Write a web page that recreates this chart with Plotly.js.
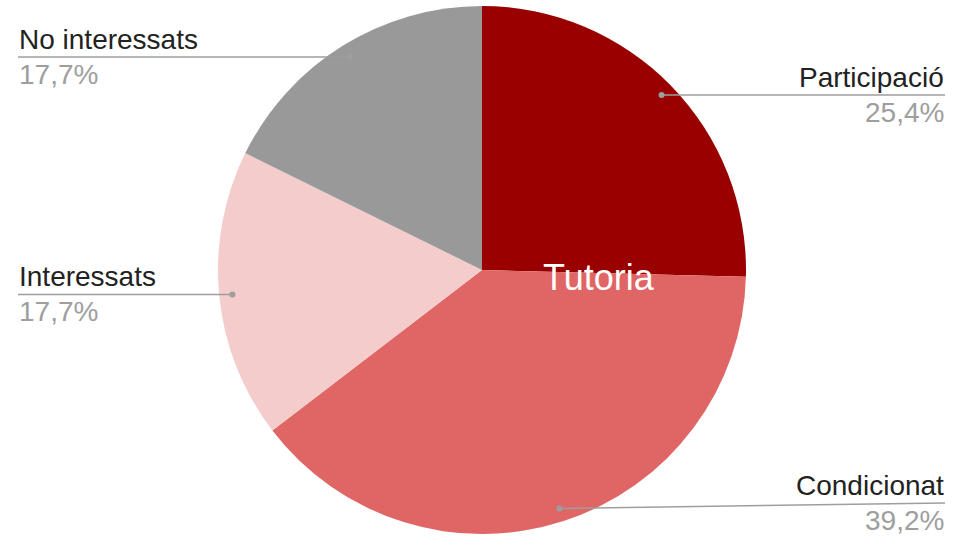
<!DOCTYPE html>
<html><head><meta charset="utf-8">
<script src="https://cdn.plot.ly/plotly-3.0.1.min.js"></script>
<style>html,body{margin:0;padding:0;background:#fff}#chart{width:955px;height:536px}</style>
</head><body><div id="chart"></div>
<script>
const labels = ["Participació", "Condicionat", "Interessats", "No interessats"];
const values = [25.4, 39.2, 17.7, 17.7];
const pctText = ["25,4%", "39,2%", "17,7%", "17,7%"];
const colors = ["#990000", "#e06666", "#f4cccc", "#999999"];
const centerLabel = "Tutoria";

const W = 955, H = 536;
const cx = 482, cy = 270, R = 264;
const px = x => x / W, py = y => 1 - y / H;

const total = values.reduce((a, b) => a + b, 0);
const shapes = [], annotations = [];
let cum = 0;
values.forEach((v, i) => {
  const mid = (cum + v / 2) / total * 2 * Math.PI; cum += v;
  const dx = Math.sin(mid), dy = -Math.cos(mid);
  const dotX = cx + dx * R * 0.95, dotY = cy + dy * R * 0.95;
  const right = dx > 0;
  const endX = right ? 945 : 18;
  const lineY = Math.min(Math.max(dotY, 57), 503);
  shapes.push({type: "line", xref: "paper", yref: "paper", x0: px(dotX), y0: py(dotY), x1: px(endX), y1: py(lineY), line: {color: "#9e9e9e", width: 1.5}});
  shapes.push({type: "circle", xref: "paper", yref: "paper", x0: px(dotX - 3), x1: px(dotX + 3), y0: py(dotY - 3), y1: py(dotY + 3), fillcolor: "#9e9e9e", line: {width: 0}});
  annotations.push({xref: "paper", yref: "paper", x: px(endX), y: py(lineY - 1), xanchor: right ? "right" : "left", yanchor: "bottom", text: labels[i], showarrow: false, borderpad: 0, font: {family: "Liberation Sans, Arial, sans-serif", size: 28, color: "#222222"}});
  annotations.push({xref: "paper", yref: "paper", x: px(endX), y: py(lineY + 1), xanchor: right ? "right" : "left", yanchor: "top", text: pctText[i], showarrow: false, borderpad: 0, font: {family: "Liberation Sans, Arial, sans-serif", size: 28, color: "#9e9e9e"}});
});
annotations.push({xref: "paper", yref: "paper", x: px(599), y: py(277), xanchor: "center", yanchor: "middle", text: centerLabel, showarrow: false, font: {family: "Liberation Sans, Arial, sans-serif", size: 36, color: "#ffffff"}});

const trace = {
  type: "pie", labels: labels, values: values, sort: false, direction: "clockwise", rotation: 0,
  marker: {colors: colors, line: {width: 0}}, textinfo: "none", hoverinfo: "label+percent",
  domain: {x: [px(cx - R), px(cx + R)], y: [py(cy + R), py(cy - R)]}
};
Plotly.newPlot("chart", [trace], {
  width: W, height: H, margin: {l: 0, r: 0, t: 0, b: 0}, showlegend: false,
  paper_bgcolor: "#ffffff", shapes: shapes, annotations: annotations
}, {displayModeBar: false, staticPlot: true});
</script></body></html>
